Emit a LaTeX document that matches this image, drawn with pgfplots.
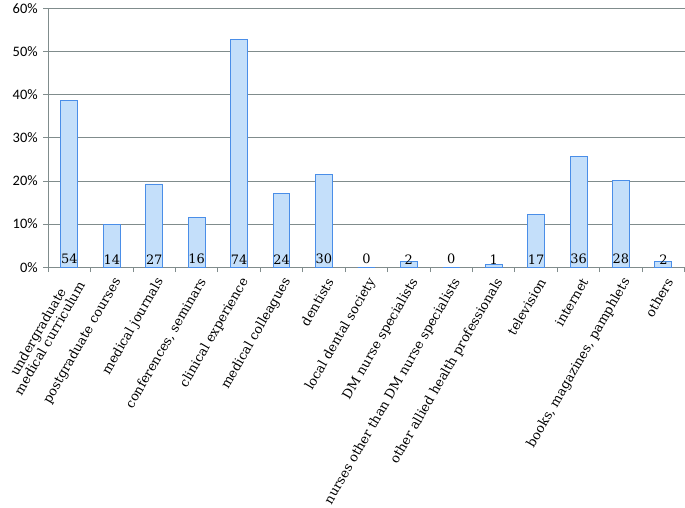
\documentclass[border=0pt]{standalone}
\usepackage{pgfplots}
\pgfplotsset{compat=1.18}
\usepackage{fontspec}
\setmainfont{DejaVu Serif}
\newfontfamily\calibri{Carlito}
\definecolor{barfill}{RGB}{196,223,250}
\definecolor{barline}{RGB}{74,142,232}
\definecolor{axisgray}{RGB}{128,140,140}

\begin{document}
\begin{tikzpicture}
\begin{axis}[
    scale only axis,
    width=639pt, height=260pt,
    xmin=-0.5, xmax=14.5,
    ymin=0, ymax=60,
    axis x line=bottom, axis y line=left,
    axis line style={-, draw=axisgray, line width=0.8pt},
    xtick={-0.5,0.5,...,14.5},
    x tick label as interval,
    xticklabels={{undergraduate\\medical curriculum},postgraduate courses,medical journals,{conferences, seminars},clinical experience,medical colleagues,dentists,local dental society,DM nurse specialists,nurses other than DM nurse specialists,other allied health professionals,television,internet,{books, magazines, pamphlets},others},
    xticklabel style={rotate=60, anchor=east, align=center, font=\fontsize{13}{13.5}\selectfont, inner sep=1pt, yshift=-9pt, xshift=-2pt},
    ytick={0,10,...,60},
    yticklabels={0\%,10\%,20\%,30\%,40\%,50\%,60\%},
    yticklabel style={font=\calibri\fontsize{14.5}{16}\selectfont, xshift=-2pt},
    tick align=outside,
    major tick length=5pt,
    tick style={draw=axisgray, line width=0.8pt},
    ymajorgrids,
    grid style={draw=axisgray, line width=0.8pt},
    clip=false,
]
\addplot[ybar, bar width=17pt, fill=barfill, draw=barline, line width=1pt] coordinates {
(0,38.57) (1,10.00) (2,19.29) (3,11.43) (4,52.86) (5,17.14) (6,21.43) (7,0)
(8,1.43) (9,0) (10,0.71) (11,12.14) (12,25.71) (13,20.00) (14,1.43)};
\addplot[draw=none, mark=none, nodes near coords, point meta=explicit symbolic,
  nodes near coords style={anchor=south, font=\fontsize{13}{13}\selectfont, inner sep=0pt, yshift=3pt}] coordinates {
(0,0) [54] (1,0) [14] (2,0) [27] (3,0) [16] (4,0) [74] (5,0) [24] (6,0) [30] (7,0) [0]
(8,0) [2] (9,0) [0] (10,0) [1] (11,0) [17] (12,0) [36] (13,0) [28] (14,0) [2]};
\end{axis}
\end{tikzpicture}
\end{document}
